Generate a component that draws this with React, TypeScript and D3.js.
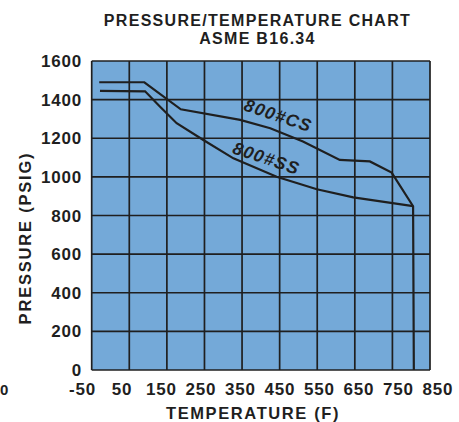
import React from "react";
import * as d3 from "d3";

const titleLines = ["PRESSURE/TEMPERATURE CHART", "ASME B16.34"];
const xTicks = [-50, 50, 150, 250, 350, 450, 550, 650, 750, 850];
const yTicks = [0, 200, 400, 600, 800, 1000, 1200, 1400, 1600];
const xTitle = "TEMPERATURE (F)";
const yTitle = "PRESSURE (PSIG)";
const strayLabel = "0";

const csTemp = [-30, 90, 187, 345, 425, 512, 610, 690, 748, 805, 807];
const csPressure = [1490, 1490, 1350, 1295, 1252, 1183, 1088, 1080, 1022, 848, 0];
const csLabel = { text: "800#CS", temp: 352, pressure: 1346 };

const ssTemp = [-28, 92, 132, 176, 247, 327, 442, 549, 646, 805];
const ssPressure = [1445, 1443, 1363, 1278, 1191, 1096, 1001, 936, 894, 849];
const ssLabel = { text: "800#SS", temp: 322, pressure: 1124 };

const W = 459;
const H = 422;
const margin = { left: 91.7, right: 29, top: 61, bottom: 52 };
const FONT = "Liberation Sans, Arial, Helvetica, sans-serif";
const INK = "#1f1f1f";

export default function App() {
  const x = d3.scaleLinear().domain([-50, 850]).range([margin.left, W - margin.right]);
  const y = d3.scaleLinear().domain([0, 1600]).range([H - margin.bottom, margin.top]);
  const xLab = d3.scaleLinear().domain([-50, 850]).range([82.5, 438]);

  const line = d3
    .line<[number, number]>()
    .x((d) => x(d[0]))
    .y((d) => y(d[1]))
    .curve(d3.curveLinear);

  const cs = csTemp.map((t, i) => [t, csPressure[i]] as [number, number]);
  const ss = ssTemp.map((t, i) => [t, ssPressure[i]] as [number, number]);

  const x0 = x(-50), x1 = x(850), y0 = y(0), y1 = y(1600);

  return (
    <svg
      width={W}
      height={H}
      style={{ position: "absolute", left: 0, top: 0, background: "#fff" }}
      fontFamily={FONT}
    >
      {titleLines.map((t, i) => (
        <text
          key={t}
          x={257.5}
          y={25.5 + i * 18}
          textAnchor="middle"
          fontSize={16}
          fontWeight="bold"
          letterSpacing={1.3}
          fill={INK}
        >
          {t}
        </text>
      ))}
      <rect x={x0} y={y1} width={x1 - x0} height={y0 - y1} fill="#74a9d8" />
      {xTicks.map((t) => (
        <line key={"vx" + t} x1={x(t)} x2={x(t)} y1={y1} y2={y0} stroke={INK} strokeWidth={1.7} />
      ))}
      {yTicks.map((t) => (
        <line key={"hy" + t} x1={x0} x2={x1} y1={y(t)} y2={y(t)} stroke={INK} strokeWidth={1.7} />
      ))}
      <path d={line(cs) || ""} fill="none" stroke={INK} strokeWidth={2.2} strokeLinejoin="miter" />
      <path d={line(ss) || ""} fill="none" stroke={INK} strokeWidth={2.2} />
      {[csLabel, ssLabel].map((l) => (
        <text
          key={l.text}
          transform={`translate(${x(l.temp)},${y(l.pressure)}) rotate(18.5)`}
          fontSize={17.5}
          fontWeight="bold"
          fontStyle="italic"
          letterSpacing={1.2}
          fill={INK}
        >
          {l.text}
        </text>
      ))}
      {yTicks.map((t) => (
        <text
          key={"yl" + t}
          x={82}
          y={y(t) + 6}
          textAnchor="end"
          fontSize={17}
          fontWeight="bold"
          letterSpacing={0.8}
          fill={INK}
        >
          {t}
        </text>
      ))}
      {xTicks.map((t) => (
        <text
          key={"xl" + t}
          x={xLab(t)}
          y={395}
          textAnchor="middle"
          fontSize={17}
          fontWeight="bold"
          letterSpacing={0.8}
          fill={INK}
        >
          {t}
        </text>
      ))}
      <text x={0} y={395} fontSize={15} fontWeight="bold" fill={INK}>
        {strayLabel}
      </text>
      <text
        x={253}
        y={419}
        textAnchor="middle"
        fontSize={16.5}
        fontWeight="bold"
        letterSpacing={1.6}
        fill={INK}
      >
        {xTitle}
      </text>
      <text
        transform={`translate(30.5,238) rotate(-90)`}
        textAnchor="middle"
        fontSize={16.5}
        fontWeight="bold"
        letterSpacing={1.8}
        fill={INK}
      >
        {yTitle}
      </text>
    </svg>
  );
}
